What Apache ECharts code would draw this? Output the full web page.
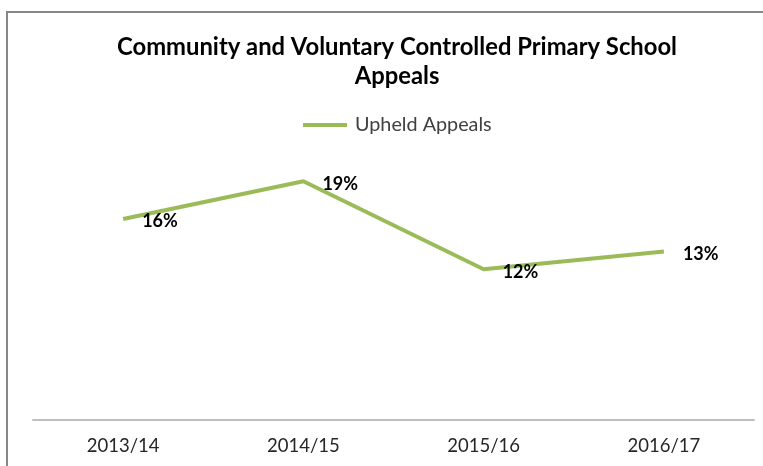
<!DOCTYPE html>
<html>
<head>
<meta charset="utf-8">
<style>html,body{margin:0;padding:0;background:#fff}#c{width:763px;height:466px}</style>
<script src="https://cdn.jsdelivr.net/npm/echarts@6/dist/echarts.min.js"></script>
</head>
<body>
<div id="c"></div>
<script>
const titleText = 'Community and Voluntary Controlled Primary School\nAppeals';
const categories = ['2013/14', '2014/15', '2015/16', '2016/17'];
const seriesName = 'Upheld Appeals';
const upheld = [0.16, 0.19, 0.12, 0.134];

const chart = echarts.init(document.getElementById('c'), null, {renderer: 'canvas'});
const FONT = 'Lato, "Open Sans", sans-serif';
chart.setOption({
  animation: false,
  backgroundColor: '#fff',
  graphic: [{
    type: 'rect', silent: true,
    shape: {x: 7, y: 12, width: 800, height: 500},
    style: {fill: 'none', stroke: '#878787', lineWidth: 2}
  }],
  title: {
    text: titleText,
    left: 392, top: 28, textAlign: 'center',
    textStyle: {fontFamily: FONT, fontSize: 23.8, fontWeight: 'bold', color: '#000', lineHeight: 29}
  },
  legend: {
    data: [seriesName],
    top: 110, left: 298,
    itemWidth: 44, itemHeight: 4, itemGap: 10,
    icon: 'rect',
    textStyle: {fontFamily: FONT, fontSize: 19.8, color: '#404040', padding: [0, 0, 0, 3]}
  },
  grid: {left: 33, right: 9, top: 43, bottom: 46, containLabel: false},
  xAxis: {
    type: 'category', data: categories, boundaryGap: true,
    axisLine: {lineStyle: {color: '#bfbfbf', width: 2}},
    axisTick: {show: false},
    axisLabel: {fontFamily: FONT, fontSize: 18.5, color: '#262626', margin: 17}
  },
  yAxis: {
    type: 'value', min: 0, max: 0.3, show: false,
    splitLine: {show: false}
  },
  series: [{
    name: seriesName, type: 'line', data: upheld,
    symbol: 'circle', symbolSize: 0, showSymbol: true,
    lineStyle: {color: '#9BBB59', width: 4},
    itemStyle: {color: '#9BBB59'},
    label: {
      show: true, position: 'right', distance: 19, offset: [0, 2.5],
      formatter: p => Math.round(p.value * 100) + '%',
      fontFamily: FONT, fontSize: 18, fontWeight: 'bold', color: '#000'
    }
  }]
});
</script>
</body>
</html>
